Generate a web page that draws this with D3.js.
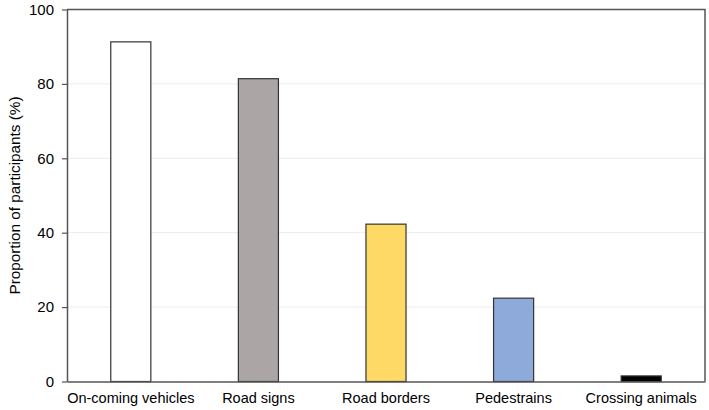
<!DOCTYPE html>
<html>
<head>
<meta charset="utf-8">
<script src="https://cdn.jsdelivr.net/npm/d3@7"></script>
<style>
  html, body { margin: 0; padding: 0; background: #fff; }
  svg { display: block; }
  text { font-family: "Liberation Sans", Arial, sans-serif; fill: #000; }
</style>
</head>
<body>
<svg id="chart" width="709" height="410"></svg>
<script>
const categories = ["On-coming vehicles", "Road signs", "Road borders", "Pedestrains", "Crossing animals"];
const values = [91.3, 81.4, 42.3, 22.4, 1.5];
const colors = ["#ffffff", "#aba6a5", "#ffd966", "#8eaadb", "#000000"];
const yTicks = [0, 20, 40, 60, 80, 100];
const yTitle = "Proportion of participants (%)";

(function () {
const svg = d3.select("#chart");
const mLeft = 67, mRight = 705, mTop = 9.5, mBottom = 381.5;

const x = d3.scaleBand().domain(categories).range([mLeft, mRight])
  .paddingInner(0.686).paddingOuter(0.343);
const y = d3.scaleLinear().domain([0, 100]).range([mBottom, mTop]);

// gridlines
svg.append("g").selectAll("line").data(yTicks.filter(t => t > 0 && t < 100)).join("line")
  .attr("x1", mLeft).attr("x2", mRight)
  .attr("y1", d => y(d)).attr("y2", d => y(d))
  .attr("stroke", "#ececec").attr("stroke-width", 1);

// bars
svg.append("g").selectAll("rect").data(categories).join("rect")
  .attr("x", d => x(d))
  .attr("y", (d, i) => y(values[i]))
  .attr("width", x.bandwidth())
  .attr("height", (d, i) => mBottom - y(values[i]))
  .attr("fill", (d, i) => colors[i])
  .attr("stroke", "#333")
  .attr("stroke-width", 1.2);

// frame top & right
svg.append("path")
  .attr("d", `M${mLeft},${mTop}H${mRight}V${mBottom}`)
  .attr("fill", "none").attr("stroke", "#555").attr("stroke-width", 1.5);

// y axis
const yAxis = d3.axisLeft(y).tickValues(yTicks).tickSize(5).tickPadding(8).tickSizeOuter(0);
const gy = svg.append("g").attr("transform", `translate(${mLeft},0)`).call(yAxis);
gy.select(".domain").attr("stroke", "#555").attr("stroke-width", 1.5);
gy.selectAll(".tick line").attr("stroke", "#555").attr("stroke-width", 1.2);
gy.selectAll("text").style("font-size", "15px").attr("fill", "#000");

// x axis
const xAxis = d3.axisBottom(x).tickSize(0).tickPadding(11).tickSizeOuter(0);
const gx = svg.append("g").attr("transform", `translate(0,${mBottom})`).call(xAxis);
gx.select(".domain").attr("stroke", "#555").attr("stroke-width", 1.5);
gx.selectAll("text").style("font-size", "14.5px").attr("fill", "#000");

// y title
svg.append("text")
  .attr("transform", `translate(19.5,${(mTop + mBottom) / 2}) rotate(-90)`)
  .attr("text-anchor", "middle")
  .style("font-size", "15.3px")
  .text(yTitle);
})();
</script>
</body>
</html>
